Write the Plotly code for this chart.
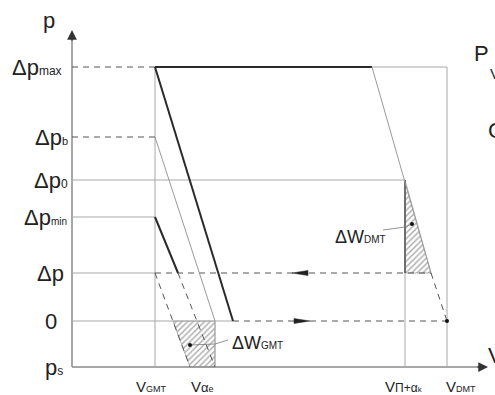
import plotly.graph_objects as go

# ---- schematic data (abstract units: V along x, p along y; ps = 0) ----
p_names = ["ps", "0", "dp", "dp_min", "dp0", "dp_b", "dp_max"]
p_vals = [0, 46, 94, 150, 187, 230, 300]
P = dict(zip(p_names, p_vals))

v_names = ["V_GMT", "V_ae", "V_Pi_ak", "V_DMT"]
v_vals = [83, 143, 333, 375]
V = dict(zip(v_names, v_vals))

# characteristic construction points
v_thick_end = 161      # main steep line at p = 0
v_min_end = 106        # short line from dp_min meets dp
v_gmt_low = 118        # dashed edge at ps
v_gmt_top = 101        # hatched GMT area, top-left at p = 0
v_flat_end = 300       # end of dp_max plateau
v_dmt_corner = 359     # DMT hatched corner at dp
axis_top = 337
axis_right = 416
flow_left_tip = 220    # direction arrow on dp line (pointing left)
flow_right_tip = 238   # direction arrow on 0 line (pointing right)

FONT = "Liberation Sans, Arial, sans-serif"
GRAY = "#a8a8a8"
DARK = "#2a2a2a"
DASHC = "#555555"
DASH = "6px,5px"

fig = go.Figure()

def seg(xs, ys, color=GRAY, width=1, dash=None):
    fig.add_trace(go.Scatter(x=xs, y=ys, mode="lines", hoverinfo="skip",
                             line=dict(color=color, width=width, dash=dash)))

def hatch(xs, ys):
    fig.add_trace(go.Scatter(x=xs, y=ys, mode="lines", fill="toself", hoverinfo="skip",
                             line=dict(color="#888", width=0.6),
                             fillcolor="rgba(0,0,0,0)",
                             fillpattern=dict(shape="/", size=4, solidity=0.35,
                                              fgcolor="#555", bgcolor="white")))

def head(tip_x, tip_y, direction, length=16, half=2.5):
    bx = tip_x - direction * length
    fig.add_trace(go.Scatter(x=[tip_x, bx, bx, tip_x], y=[tip_y, tip_y + half, tip_y - half, tip_y],
                             mode="lines", fill="toself", hoverinfo="skip",
                             line=dict(color="#222", width=0.5), fillcolor="#222"))

# hatched areas
hatch([v_gmt_top, V["V_ae"], V["V_ae"], v_gmt_low, v_gmt_top],
      [P["0"], P["0"], P["ps"], P["ps"], P["0"]])
hatch([V["V_Pi_ak"], V["V_Pi_ak"], v_dmt_corner, V["V_Pi_ak"]],
      [P["dp0"], P["dp"], P["dp"], P["dp0"]])

# axes
seg([0, 0], [P["ps"], axis_top - 4], color="#8a8a8a", width=1.5)
seg([0, axis_right - 4], [P["ps"], P["ps"]], color="#8a8a8a", width=1.5)

# vertical grid lines
seg([V["V_GMT"], V["V_GMT"]], [P["ps"], P["dp_max"]])
seg([V["V_ae"], V["V_ae"]], [P["ps"], P["0"]])
seg([V["V_Pi_ak"], V["V_Pi_ak"]], [P["ps"], P["dp0"]])
seg([V["V_DMT"], V["V_DMT"]], [P["ps"], P["dp_max"]])
seg([V["V_Pi_ak"], V["V_Pi_ak"]], [P["dp"], P["dp0"]], color="#555", width=1.5)

# horizontal level lines
seg([0, V["V_GMT"]], [P["dp_max"]] * 2, color=DASHC, dash=DASH)
seg([0, V["V_GMT"]], [P["dp_b"]] * 2, color=DASHC, dash=DASH)
seg([0, V["V_Pi_ak"]], [P["dp0"]] * 2)
seg([0, V["V_GMT"]], [P["dp_min"]] * 2)
seg([0, V["V_GMT"]], [P["dp"]] * 2)
seg([V["V_GMT"], v_dmt_corner], [P["dp"]] * 2, color=DASHC, dash=DASH)
seg([0, v_thick_end], [P["0"]] * 2)
seg([v_thick_end, V["V_DMT"]], [P["0"]] * 2, color=DASHC, dash=DASH)
seg([v_flat_end, V["V_DMT"]], [P["dp_max"]] * 2)

# characteristic lines
seg([V["V_GMT"], v_flat_end], [P["dp_max"]] * 2, color=DARK, width=2)
seg([V["V_GMT"], v_thick_end], [P["dp_max"], P["0"]], color=DARK, width=2)
seg([V["V_GMT"], V["V_ae"]], [P["dp_b"], P["0"]], color="#999", width=1)
seg([V["V_GMT"], v_min_end], [P["dp_min"], P["dp"]], color=DARK, width=2)
seg([V["V_GMT"], v_gmt_low], [P["dp"], P["ps"]], color=DASHC, dash=DASH)
seg([v_min_end, V["V_ae"]], [P["dp"], P["ps"]], color=DASHC, dash=DASH)
seg([v_flat_end, v_dmt_corner], [P["dp_max"], P["dp"]], color="#999", width=1)
seg([v_dmt_corner, V["V_DMT"]], [P["dp"], P["0"]], color=DASHC, dash=DASH)

# flow direction arrowheads
head(flow_left_tip, P["dp"], -1)
head(flow_right_tip, P["0"], 1)

# leader lines + dots
seg([v_gmt_low, 143, 156], [22, 23, 27], color="#777", width=0.8)
seg([311, 333, 340], [137, 140, 143], color="#777", width=0.8)
fig.add_trace(go.Scatter(x=[V["V_DMT"], v_gmt_low, 340], y=[P["0"], 22, 143], mode="markers",
                         hoverinfo="skip", marker=dict(color="#111", size=4)))

anns = []
def arrow(x, y, ax, ay, w=1.5, size=1.3):
    anns.append(dict(x=x, y=y, ax=ax, ay=ay, xref="x", yref="y", axref="x", ayref="y",
                     text="", showarrow=True, arrowhead=2, arrowsize=size,
                     arrowwidth=w, arrowcolor="#333"))

arrow(0, axis_top, 0, axis_top - 12)
arrow(axis_right, P["ps"], axis_right - 12, P["ps"])

def label(x, y, text, size=22, xanchor="left", yanchor="middle"):
    anns.append(dict(x=x, y=y, xref="x", yref="y", text=text, showarrow=False,
                     xanchor=xanchor, yanchor=yanchor,
                     font=dict(family=FONT, size=size, color="#222")))

def sub(t, s):
    return f"<span style='font-size:{s}px'>{t}</span>"

# left level labels
label(-62, P["dp_max"], "Δp" + sub("max", 12))
label(-39, P["dp_b"], "Δp" + sub("b", 11))
label(-40, P["dp0"], "Δp" + sub("0", 12))
label(-50, P["dp_min"], "Δp" + sub("min", 10))
label(-37, P["dp"], "Δp")
label(-29, P["0"], "0")
label(-29, P["ps"], "p" + sub("s", 12))
label(-31, 347, "p")

# bottom V labels
label(V["V_GMT"] - 4, -19, "V" + sub("GMT", 9), size=15, xanchor="center")
label(V["V_ae"] - 13, -19, "V" + sub("α", 13) + sub("e", 9), size=15, xanchor="center")
label(V["V_Pi_ak"] - 1, -19, "V" + sub("Π+α", 12) + sub("k", 8), size=15, xanchor="center")
label(V["V_DMT"] - 3, -19, "V" + sub("DMT", 9), size=15)

# area labels
label(158, 24, "ΔW" + sub("GMT", 10), size=18)
label(261, 130, "ΔW" + sub("DMT", 10), size=18)

# text of the neighbouring figure, cut by the right edge as in the reference
label(400, 314, "P", size=22)
label(416, 294, "V", size=15)
label(414, 237, "C", size=22)
label(414, 12, "V", size=22)

fig.update_layout(
    width=495, height=395, margin=dict(l=0, r=0, t=0, b=0),
    paper_bgcolor="white", plot_bgcolor="white", showlegend=False,
    xaxis=dict(range=[-72, 423], visible=False, fixedrange=True),
    yaxis=dict(range=[-28, 367], visible=False, fixedrange=True),
    annotations=anns,
)

fig.write_html("out.html")
